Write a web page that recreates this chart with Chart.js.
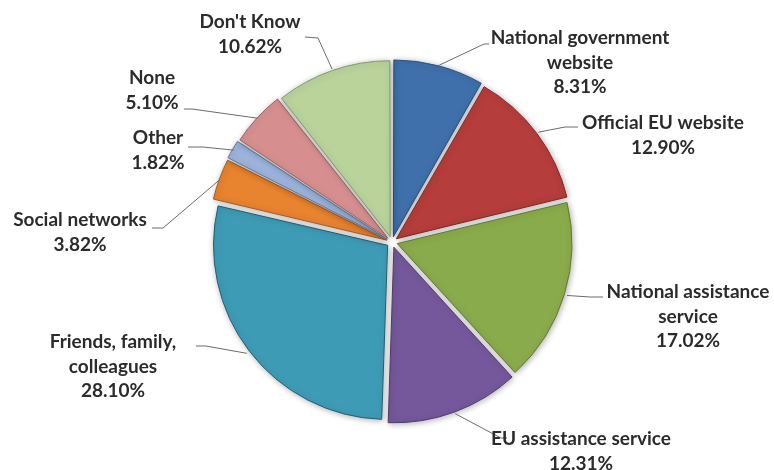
<!DOCTYPE html>
<html lang="en">
<head>
    <meta charset="UTF-8">
    <title>Information sources</title>
    <script src="https://cdn.jsdelivr.net/npm/chart.js"></script>
    <style>
        html, body { margin: 0; padding: 0; background: #fff; }
        #wrap { width: 774px; height: 470px; }
    </style>
</head>
<body>
    <div id="wrap"><canvas id="myChart"></canvas></div>
    <script>
        // data
        const categories = [
            ['National government', 'website'],
            ['Official EU website'],
            ['National assistance', 'service'],
            ['EU assistance service'],
            ['Friends, family,', 'colleagues'],
            ['Social networks'],
            ['Other'],
            ['None'],
            ["Don't Know"]
        ];
        const shares = [8.31, 12.90, 17.02, 12.31, 28.10, 3.82, 1.82, 5.10, 10.62];

        const fills = ['#3f70ab', '#b53d3b', '#8aab4b', '#74589b', '#3e9bb6', '#e8832f', '#9cb3dc', '#d68f8e', '#bad39b'];
        const edges = ['#2c4f7c', '#7e2a29', '#617a33', '#503d6d', '#235f74', '#a65b1f', '#62779c', '#9a6261', '#84986c'];

        // where each label sits: text centre x, first line y, leader line points near the text
        const labelPos = [
            { x: 580, y: 38, line: [[489, 44], [484, 44]] },
            { x: 663, y: 123, line: [[578, 127], [565, 127]] },
            { x: 688, y: 292, line: [[603, 297], [590, 297]] },
            { x: 581, y: 439, line: [[507, 438], [501, 438]] },
            { x: 113, y: 342, line: [[196, 346], [206, 346]] },
            { x: 80, y: 220, line: [[152, 228], [163, 228]] },
            { x: 158, y: 138, line: [[188, 147], [203, 147]] },
            { x: 152, y: 78, line: [[184, 109], [192, 109]] },
            { x: 250, y: 22, line: [[305, 37], [318, 38]] }
        ];

        const sliceShadow = {
            id: 'sliceShadow',
            beforeDatasetsDraw(chart) {
                const ctx = chart.ctx;
                ctx.save();
                ctx.shadowColor = 'rgba(0,0,0,0.3)';
                ctx.shadowBlur = 6;
                ctx.shadowOffsetX = 1;
                ctx.shadowOffsetY = 1;
            },
            afterDatasetsDraw(chart) {
                chart.ctx.restore();
            }
        };

        const pieLabels = {
            id: 'pieLabels',
            afterDraw(chart) {
                const ctx = chart.ctx;
                const meta = chart.getDatasetMeta(0);
                ctx.save();
                meta.data.forEach((arc, i) => {
                    const p = labelPos[i];
                    const mid = (arc.startAngle + arc.endAngle) / 2;
                    const r = arc.outerRadius + 11 - 2;
                    const ax = arc.x + Math.cos(mid) * r;
                    const ay = arc.y + Math.sin(mid) * r;

                    ctx.strokeStyle = '#6b6b6b';
                    ctx.lineWidth = 1;
                    ctx.beginPath();
                    ctx.moveTo(p.line[0][0], p.line[0][1]);
                    ctx.lineTo(p.line[1][0], p.line[1][1]);
                    ctx.lineTo(ax, ay);
                    ctx.stroke();

                    const lines = categories[i].concat([shares[i].toFixed(2) + '%']);
                    ctx.fillStyle = '#2b2b2b';
                    ctx.font = 'bold 19px Lato';
                    ctx.textAlign = 'center';
                    ctx.textBaseline = 'middle';
                    lines.forEach((t, k) => {
                        ctx.fillText(t, p.x, p.y + k * 24.5);
                    });
                });
                ctx.restore();
            }
        };

        const ctx = document.getElementById('myChart').getContext('2d');
        const myChart = new Chart(ctx, {
            type: 'pie',
            data: {
                labels: categories,
                datasets: [{
                    data: shares,
                    backgroundColor: fills,
                    borderColor: edges,
                    borderWidth: 1,
                    offset: 22,
                    hoverOffset: 0
                }]
            },
            options: {
                responsive: true,
                maintainAspectRatio: false,
                animation: false,
                radius: 174,
                layout: { padding: { left: 10, right: 0, top: 14, bottom: 0 } },
                plugins: {
                    legend: { display: false },
                    tooltip: { enabled: false }
                }
            },
            plugins: [sliceShadow, pieLabels]
        });
    </script>
</body>
</html>
